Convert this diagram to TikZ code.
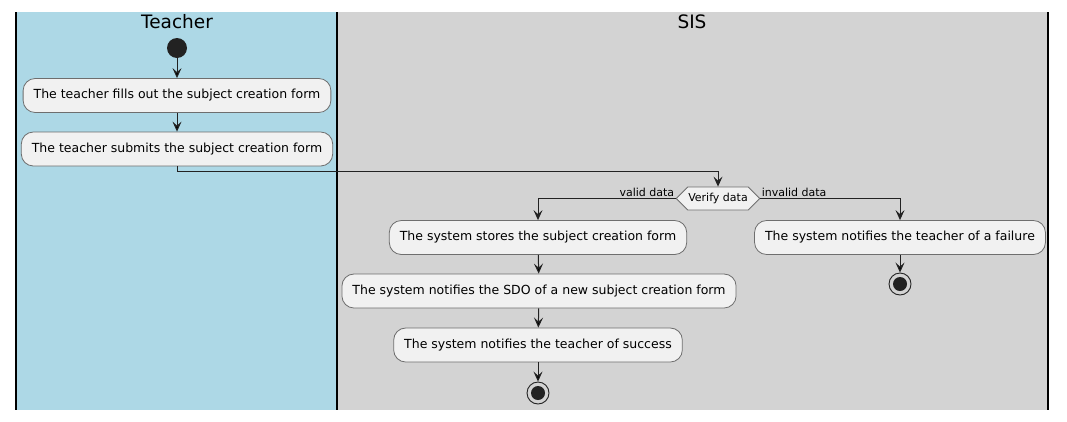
\documentclass[tikz,border=0pt]{standalone}
\usepackage{fontspec}
\setmainfont{DejaVu Sans}
\usetikzlibrary{arrows.meta,shapes.symbols}
\definecolor{laneblue}{HTML}{ADD8E6}
\definecolor{lanegray}{HTML}{D3D3D3}
\definecolor{actfill}{HTML}{F1F1F1}
\definecolor{actline}{HTML}{6E6E6E}
\definecolor{dot}{HTML}{222222}
\begin{document}
\begin{tikzpicture}[x=1pt,y=-1pt,
  act node/.style={rounded corners=12pt,draw=actline,fill=actfill,line width=0.8pt,
    minimum height=34pt,inner xsep=10.5pt,font=\fontsize{12.5}{14}\selectfont},
  start node/.style={circle,fill=dot,minimum size=20pt,inner sep=0pt},
  stop node/.style={circle,draw=dot,line width=0.9pt,minimum size=22pt,inner sep=0pt,
    path picture={\fill[dot] (path picture bounding box.center) circle (7pt);}},
  check node/.style={signal,signal to=east and west,signal pointer angle=90,draw=actline,
    fill=actfill,line width=0.8pt,minimum height=23pt,inner xsep=0.5pt,inner ysep=0pt,
    font=\fontsize{11}{13}\selectfont},
  lane title/.style={font=\fontsize{18.5}{21}\selectfont},
  guard/.style={font=\fontsize{11}{13}\selectfont,inner sep=1pt},
  flow/.style={draw=dot,line width=1pt,-{Stealth[length=10pt,width=9pt,inset=4pt]}}]

  \useasboundingbox (0,0) rectangle (1067,421);
  \fill[laneblue] (16,12) rectangle (337,410);
  \fill[lanegray] (337,12) rectangle (1048,410);
  \draw[line width=1.4pt] (16,12) -- (16,410) (337,12) -- (337,410) (1048,12) -- (1048,410);

  \node[lane title] (teacher) at (177,22) {Teacher};
  \node[lane title] (sis) at (692,22) {SIS};

  \node[start node] (start) at (177,48) {};
  \node[act node] (fill) at (177,95.5) {The teacher fills out the subject creation form};
  \node[act node] (submit) at (177,149) {The teacher submits the subject creation form};
  \node[check node] (verify) at (718,198.5) {Verify data};
  \node[act node] (store) at (538,237.5) {The system stores the subject creation form};
  \node[act node] (sdo) at (539,291) {The system notifies the SDO of a new subject creation form};
  \node[act node] (success) at (538,345) {The system notifies the teacher of success};
  \node[stop node] (stop1) at (538,393) {};
  \node[act node] (failure) at (900,237.5) {The system notifies the teacher of a failure};
  \node[stop node] (stop2) at (900,284) {};

  \path[flow]
   (start) edge (fill)
   (fill) edge (submit)
   (store) edge (sdo)
   (sdo) edge (success)
   (success) edge (stop1)
   (failure) edge (stop2);
  \draw[flow] (submit.south) -- ++(0,5) -| (verify.north);
  \draw[flow] (verify.west) -| node[guard,pos=0,anchor=south east]{valid data} (store.north);
  \draw[flow] (verify.east) -| node[guard,pos=0,anchor=south west]{invalid data} (failure.north);
\end{tikzpicture}
\end{document}
